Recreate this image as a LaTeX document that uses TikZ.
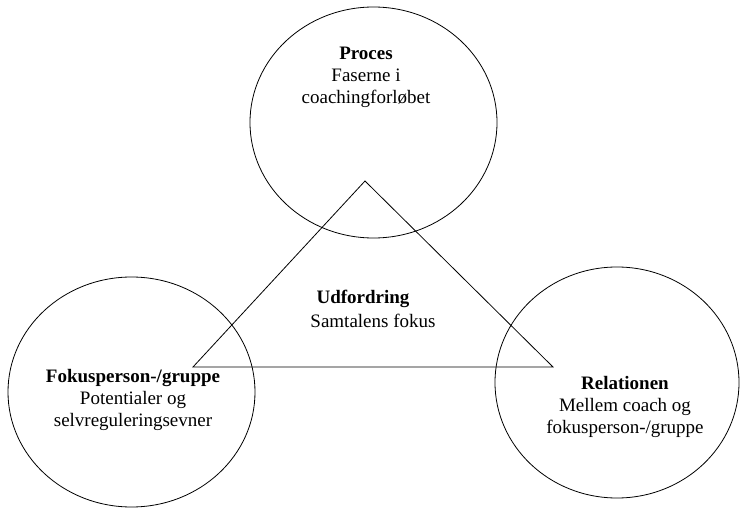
\documentclass[tikz,border=0pt]{standalone}
\usepackage{fontspec}
\setmainfont{Liberation Serif}
\usetikzlibrary{shapes.geometric}
\begin{document}
\begin{tikzpicture}[x=1pt, y=-1pt, line width=0.8pt,
    font=\fontsize{19}{22}\selectfont,
    oval/.style={draw, ellipse, inner sep=0pt},
    txt/.style={align=center, inner sep=0pt}]
    \useasboundingbox (0,0) rectangle (740,508);
    % the three circles
    \node[oval, minimum width=247pt, minimum height=231pt] (proces) at (373.5,122.5) {};
    \node[oval, minimum width=247pt, minimum height=230pt] (fokus) at (131.5,392) {};
    \node[oval, minimum width=244pt, minimum height=231pt] (relation) at (617,382.5) {};
    % triangle
    \coordinate (top) at (365,181);
    \coordinate (venstre) at (193,367);
    \coordinate (hoejre) at (553,367);
    \draw (top) -- (venstre) -- (hoejre) -- cycle;
    % texts
    \node[txt] (procestxt) at (366,77) {\textbf{Proces}\\Faserne i\\coachingforløbet};
    \node[txt] (udf) at (363,299) {\textbf{Udfordring}};
    \node[txt] (samtale) at (373,321) {Samtalens fokus};
    \node[txt] (fokustxt) at (133,400) {\textbf{Fokusperson-/gruppe}\\Potentialer og\hspace*{12pt}\\selvreguleringsevner};
    \node[txt] (relationtxt) at (625,407) {\textbf{Relationen}\\Mellem coach og\\fokusperson-/gruppe};
\end{tikzpicture}
\end{document}
